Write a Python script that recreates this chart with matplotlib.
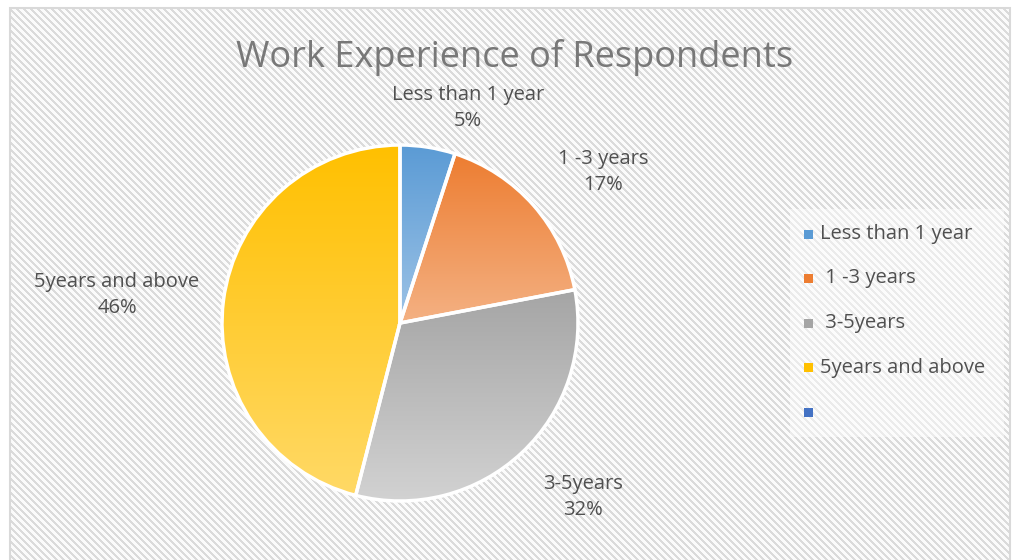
import numpy as np
import matplotlib
matplotlib.use("Agg")
import matplotlib.pyplot as plt
from matplotlib.patches import Rectangle
from matplotlib.colors import LinearSegmentedColormap

# Data
categories = ["Less than 1 year", " 1 -3 years", " 3-5years", "5years and above"]
label_names = ["Less than 1 year", "1 -3 years", "3-5years", "5years and above"]
shares = [5, 17, 32, 46]
top_colors = ["#5b9bd5", "#ed7d31", "#a5a5a5", "#ffc000"]
bottom_colors = ["#9dc3e6", "#f4b183", "#d2d2d2", "#ffd966"]
extra_legend_color = "#4472c4"

W, H = 1017, 560
plt.rcParams["font.family"] = ["Open Sans", "DejaVu Sans"]

fig = plt.figure(figsize=(W / 100, H / 100), dpi=100)
ax = fig.add_axes([0, 0, 1, 1])

# Diagonal striped chart-area background inside a light border
yy, xx = np.mgrid[0:H, 0:W]
stripe = ((xx - yy) % 7) < 3
bg = np.ones((H, W, 3))
bg[stripe] = np.array([0.86, 0.86, 0.86])
bg[~stripe] = np.array([0.985, 0.985, 0.985])
inside = (xx >= 11) & (xx <= 1009) & (yy >= 9)
bg[~inside] = 1.0
ax.imshow(bg, extent=(0, W, 0, H), origin="upper", zorder=0, interpolation="nearest")
ax.add_patch(Rectangle((10, -5), 1000, H - 8 + 5, fill=False, edgecolor="#d9d9d9",
                       linewidth=1.5, zorder=1))

# Pie
cx, cy, r = 400, H - 323, 178
wedges, _ = ax.pie(shares, center=(cx, cy), radius=r, startangle=90, counterclock=False,
                   wedgeprops=dict(edgecolor="white", linewidth=2.5), frame=True)
for w, c_top, c_bot in zip(wedges, top_colors, bottom_colors):
    w.set_zorder(4)
    ext = w.get_path().get_extents()
    cmap = LinearSegmentedColormap.from_list("g", [c_bot, c_top])
    grad = np.linspace(0, 1, 256).reshape(-1, 1)
    im = ax.imshow(grad, cmap=cmap, extent=(ext.x0, ext.x1, ext.y0, ext.y1),
                   origin="lower", aspect="auto", zorder=3, interpolation="bilinear")
    im.set_clip_path(w)
    w.set_facecolor("none")

ax.set_xlim(0, W)
ax.set_ylim(0, H)
ax.set_aspect("auto")
ax.axis("off")

# Title
ax.text(515, H - 58, "Work Experience of Respondents", ha="center", va="center",
        fontsize=26, color="#787878", zorder=6)

# Data labels
label_pos = [(468, 108), (603, 172), (583, 497), (117, 295)]
for (lx, ly), name, v in zip(label_pos, label_names, shares):
    ax.text(lx, H - ly, f"{name}\n{v}%", ha="center", va="center", fontsize=14.5,
            color="#505050", linespacing=1.4, zorder=6)

# Legend
ax.add_patch(Rectangle((790, H - 437), 214, 228, facecolor="white", alpha=0.45,
                       edgecolor="none", zorder=2))
leg_names = categories + [""]
leg_colors = top_colors + [extra_legend_color]
for i, (name, col) in enumerate(zip(leg_names, leg_colors)):
    ly = 234 + i * 44.5
    ax.add_patch(Rectangle((804, H - ly - 4.5), 9, 9, facecolor=col, edgecolor="none",
                           zorder=6))
    ax.text(820, H - ly, name, ha="left", va="center", fontsize=14.5, color="#505050",
            zorder=6)

fig.savefig("out.png", dpi=100)
